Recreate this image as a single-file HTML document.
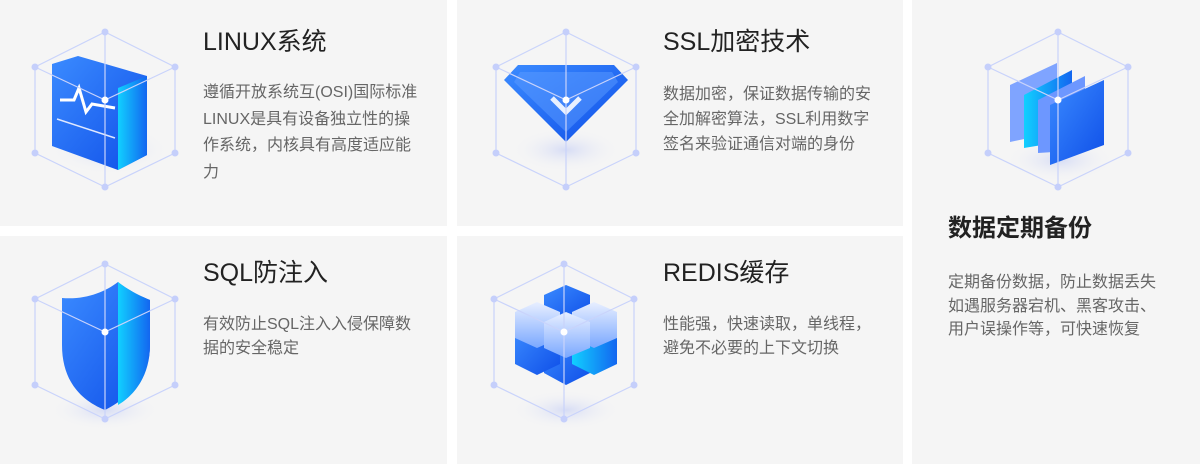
<!DOCTYPE html>
<html><head><meta charset="utf-8"><style>
*{margin:0;padding:0;box-sizing:border-box}
body{width:1200px;height:464px;background:#fff;position:relative;overflow:hidden;font-family:"Liberation Sans","Noto Sans CJK SC",sans-serif}
.c{position:absolute;background:#f5f5f5}
.t{position:absolute;font-size:25px;color:#222;line-height:30px;white-space:nowrap}
.d{position:absolute;font-size:16px;color:#666;white-space:nowrap}
svg{position:absolute;left:0;top:0}
</style></head><body>
<div class="c" style="left:0;top:0;width:447px;height:226px"></div>
<div class="c" style="left:457px;top:0;width:446px;height:226px"></div>
<div class="c" style="left:0;top:236px;width:447px;height:228px"></div>
<div class="c" style="left:457px;top:236px;width:446px;height:228px"></div>
<div class="c" style="left:912px;top:0;width:288px;height:464px"></div>

<svg width="1200" height="464">
<defs>
<linearGradient id="b" x1="0" y1="0" x2="1" y2="1"><stop offset="0" stop-color="#3b8bff"/><stop offset="1" stop-color="#0f4fe8"/></linearGradient>
<linearGradient id="s" x1="0" y1="0" x2="1" y2="0"><stop offset="0" stop-color="#11d0ff"/><stop offset="1" stop-color="#1366f0"/></linearGradient>
<linearGradient id="w" x1="0" y1="0" x2="0" y2="1"><stop offset="0" stop-color="#e8efff"/><stop offset="1" stop-color="#7aa8ff"/></linearGradient>
<radialGradient id="sh"><stop offset="0" stop-color="#d6dcf5"/><stop offset="1" stop-color="#f5f5f5" stop-opacity="0"/></radialGradient>
<g id="cube" fill="none" stroke="#c9d3fb" stroke-width="1.2">
<path d="M0,0 L-70,35 L-70,121 L0,155 L70,121 L70,35 Z M0,0 V68 M-70,35 L0,68 L70,35 M0,68 V155"/>
<g fill="#c5cffb" stroke="none"><circle r="3.5"/><circle cx="-70" cy="35" r="3.5"/><circle cx="70" cy="35" r="3.5"/><circle cx="-70" cy="121" r="3.5"/><circle cx="70" cy="121" r="3.5"/><circle cy="155" r="3.5"/><circle cy="68" r="3.5" fill="#fff"/></g>
</g>
</defs>
<ellipse cx="110" cy="150" rx="60" ry="25" fill="url(#sh)"/>
<path d="M52,64 L78,56 L147,76 L147,155 L118,170 L52,146 Z" fill="url(#b)"/>
<path d="M118,88 L147,76 L147,155 L118,170 Z" fill="url(#s)"/>
<path d="M60,100 L74,100 L79,88 L86,112 L92,104 L115,108" stroke="#fff" stroke-width="3" fill="none"/>
<line x1="57" y1="119" x2="115" y2="138" stroke="#dfe8ff" stroke-width="1.5"/>
<use href="#cube" x="105" y="32"/>
<ellipse cx="566" cy="150" rx="55" ry="22" fill="url(#sh)"/>
<path d="M518,65 L614,65 L628,80 L566,142 L504,80 Z" fill="url(#b)"/>
<path d="M520,72 L612,72 L618,82 L566,132 L514,82 Z" fill="#5b9cff" opacity=".5"/>
<path d="M552,98 L566,112 L580,98" stroke="#e8f0ff" stroke-width="5" fill="none"/>
<use href="#cube" x="566" y="32"/>
<ellipse cx="1060" cy="160" rx="55" ry="22" fill="url(#sh)"/>
<path d="M1010,85 L1057,63 L1057,132 L1010,142 Z" fill="#7fa4ff"/>
<path d="M1024,95 L1072,70 L1072,140 L1024,148 Z" fill="url(#s)"/>
<path d="M1038,100 L1085,76 L1085,150 L1038,153 Z" fill="#6d97ff"/>
<path d="M1050,105 L1104,80 L1104,145 L1050,165 Z" fill="url(#b)"/>
<use href="#cube" x="1058" y="32"/>
<ellipse cx="105" cy="410" rx="55" ry="20" fill="url(#sh)"/>
<path d="M62,298 C85,300 105,292 118,282 C128,290 140,296 150,300 L150,345 C150,380 125,400 105,410 C80,400 62,380 62,345 Z" fill="url(#b)"/>
<path d="M118,282 C128,290 140,296 150,300 L150,345 C150,380 130,398 118,405 Z" fill="url(#s)"/>
<use href="#cube" x="105" y="264"/>
<ellipse cx="566" cy="410" rx="55" ry="20" fill="url(#sh)"/>
<g>
<path d="M544,345 L566,335 L590,345 L590,373 L566,385 L544,373 Z" fill="url(#b)"/>
<path d="M515,336 L537,326 L560,336 L560,364 L537,375 L515,364 Z" fill="url(#b)"/>
<path d="M572,336 L594,326 L617,336 L617,364 L594,375 L572,364 Z" fill="url(#s)"/>
<path d="M544,295 L566,285 L590,295 L590,310 L566,320 L544,310 Z" fill="url(#b)"/>
<path d="M515,312 L537,302 L560,312 L560,338 L537,348 L515,338 Z" fill="url(#w)"/>
<path d="M572,312 L594,302 L617,312 L617,338 L594,348 L572,338 Z" fill="url(#w)"/>
<path d="M544,322 L566,312 L590,322 L590,348 L566,358 L544,348 Z" fill="url(#w)"/>
</g>
<use href="#cube" x="564" y="264"/>
</svg>

<div class="t" style="left:203px;top:27px">LINUX系统</div>
<div class="d" style="left:203px;top:80px;line-height:26.5px">遵循开放系统互(OSI)国际标准<br>LINUX是具有设备独立性的操<br>作系统，内核具有高度适应能<br>力</div>
<div class="t" style="left:663px;top:27px">SSL加密技术</div>
<div class="d" style="left:663px;top:82px;line-height:25px">数据加密，保证数据传输的安<br>全加解密算法，SSL利用数字<br>签名来验证通信对端的身份</div>
<div class="t" style="left:948px;top:214px;font-weight:bold;font-size:24px">数据定期备份</div>
<div class="d" style="left:948px;top:271px;line-height:23.5px">定期备份数据，防止数据丢失<br>如遇服务器宕机、黑客攻击、<br>用户误操作等，可快速恢复</div>
<div class="t" style="left:203px;top:258px">SQL防注入</div>
<div class="d" style="left:203px;top:313px;line-height:24px">有效防止SQL注入入侵保障数<br>据的安全稳定</div>
<div class="t" style="left:663px;top:258px">REDIS缓存</div>
<div class="d" style="left:663px;top:313px;line-height:24px">性能强，快速读取，单线程，<br>避免不必要的上下文切换</div>
</body></html>
